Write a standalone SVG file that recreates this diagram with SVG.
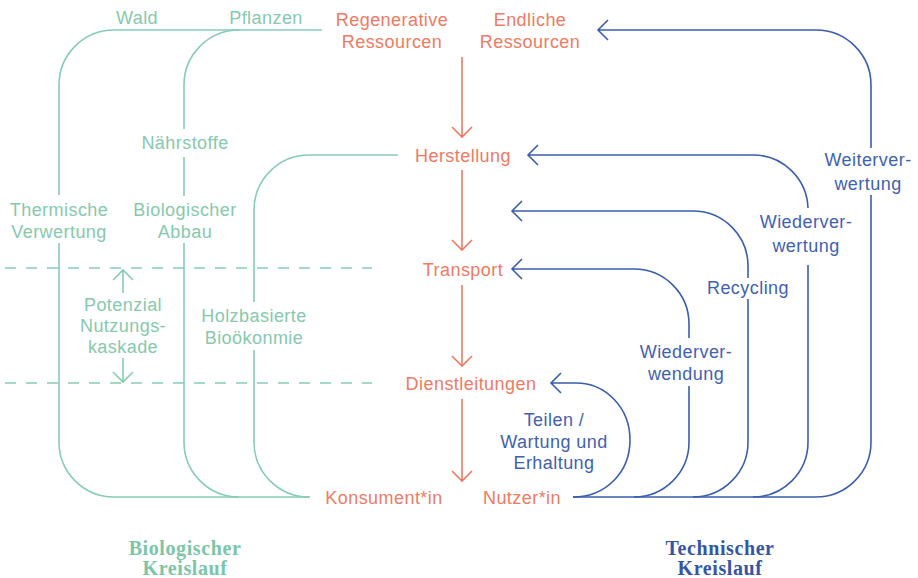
<svg xmlns="http://www.w3.org/2000/svg" width="918" height="578" viewBox="0 0 918 578">
  <defs>
    <style>
      .t { font-family: "Liberation Sans", Arial, sans-serif; font-size: 18px; letter-spacing: 0.45px; text-anchor: middle; }
      .tg { fill: #86c9ad; }
      .to { fill: #ef7a63; }
      .tb { fill: #3f62b0; }
      .title { font-family: "Liberation Serif", "Times New Roman", serif; font-size: 20px; font-weight: bold; letter-spacing: 0.6px; text-anchor: middle; }
      .lg { fill: none; stroke: #86cdb2; stroke-width: 1.6; }
      .lo { fill: none; stroke: #ef7a63; stroke-width: 1.6; }
      .lb { fill: none; stroke: #3a5eae; stroke-width: 1.6; }
      .dash { fill: none; stroke: #86cdb2; stroke-width: 1.6; stroke-dasharray: 11 10; }
    </style>
  </defs>

  <!-- connectors -->
  <g id="connectors">
    <!-- biological loops -->
    <path class="lg" d="M59 195 V85 A55 55 0 0 1 114 30 H322"/>
    <path class="lg" d="M59 243 V442 A55 55 0 0 0 114 497 H310"/>
    <path class="lg" d="M184 129 V85 A55 55 0 0 1 239 30"/>
    <path class="lg" d="M184 196 V157"/>
    <path class="lg" d="M184 243 V442 A55 55 0 0 0 239 497"/>
    <path class="lg" d="M254 302 V210 A55 55 0 0 1 309 155 H398"/>
    <path class="lg" d="M254 350 V442 A55 55 0 0 0 309 497"/>
    <!-- cascade range -->
    <path class="dash" d="M5 268 H372"/>
    <path class="dash" d="M5 383 H372"/>
    <path class="lg" d="M123 293 V270 M113 280 L123 270 L133 280"/>
    <path class="lg" d="M123 358 V382 M113 372 L123 382 L133 372"/>

    <!-- main flow -->
    <path class="lo" d="M462 57 V137 M452 127 L462 137 L472 127"/>
    <path class="lo" d="M462 170 V250 M452 240 L462 250 L472 240"/>
    <path class="lo" d="M462 285 V366 M452 356 L462 366 L472 356"/>
    <path class="lo" d="M462 399 V481 M452 471 L462 481 L472 471"/>

    <!-- technical loops -->
    <path class="lb" d="M871 148 V85 A55 55 0 0 0 816 30 H598 M608 20 L598 30 L608 40"/>
    <path class="lb" d="M871 195 V442 A55 55 0 0 1 816 497 H573"/>
    <path class="lb" d="M808 208 A55 55 0 0 0 753 155 H528 M538 145 L528 155 L538 165"/>
    <path class="lb" d="M808 265 V442 A55 55 0 0 1 753 497"/>
    <path class="lb" d="M748 278 V266 A55 55 0 0 0 693 211 H512 M522 201 L512 211 L522 221"/>
    <path class="lb" d="M748 299 V442 A55 55 0 0 1 693 497"/>
    <path class="lb" d="M689 338 V324 A55 55 0 0 0 634 269 H512 M522 259 L512 269 L522 279"/>
    <path class="lb" d="M689 386 V442 A55 55 0 0 1 634 497"/>
    <path class="lb" d="M573 497 C606 497 630 472 630 440 C630 408 606 383 576 383 H551 M561 373 L551 383 L561 393"/>
  </g>

  <!-- biological labels -->
  <g id="wald"><text class="t tg" x="137" y="24">Wald</text></g>
  <g id="pflanzen"><text class="t tg" x="266" y="24">Pflanzen</text></g>
  <g id="naehrstoffe"><text class="t tg" x="185" y="149">Nährstoffe</text></g>
  <g id="thermische-verwertung"><text class="t tg" x="59" y="216">Thermische</text><text class="t tg" x="59" y="238">Verwertung</text></g>
  <g id="biologischer-abbau"><text class="t tg" x="185" y="216">Biologischer</text><text class="t tg" x="185" y="238">Abbau</text></g>
  <g id="nutzungskaskade"><text class="t tg" x="123" y="311">Potenzial</text><text class="t tg" x="123" y="332">Nutzungs-</text><text class="t tg" x="123" y="353">kaskade</text></g>
  <g id="holzbasierte-biooekonomie"><text class="t tg" x="254" y="322">Holzbasierte</text><text class="t tg" x="254" y="344">Bioökonmie</text></g>

  <!-- main stages -->
  <g id="regenerative-ressourcen"><text class="t to" x="392" y="26">Regenerative</text><text class="t to" x="392" y="48">Ressourcen</text></g>
  <g id="endliche-ressourcen"><text class="t to" x="530" y="26">Endliche</text><text class="t to" x="530" y="48">Ressourcen</text></g>
  <g id="herstellung"><text class="t to" x="463" y="162">Herstellung</text></g>
  <g id="transport"><text class="t to" x="463" y="276">Transport</text></g>
  <g id="dienstleitungen"><text class="t to" x="471" y="390">Dienstleitungen</text></g>
  <g id="konsument"><text class="t to" x="384" y="504">Konsument*in</text></g>
  <g id="nutzer"><text class="t to" x="522" y="504">Nutzer*in</text></g>

  <!-- technical labels -->
  <g id="weiterverwertung"><text class="t tb" x="868" y="166">Weiterver-</text><text class="t tb" x="868" y="190">wertung</text></g>
  <g id="wiederverwertung"><text class="t tb" x="806" y="228">Wiederver-</text><text class="t tb" x="806" y="252">wertung</text></g>
  <g id="recycling"><text class="t tb" x="748" y="294">Recycling</text></g>
  <g id="wiederverwendung"><text class="t tb" x="686" y="358">Wiederver-</text><text class="t tb" x="686" y="380">wendung</text></g>
  <g id="teilen"><text class="t tb" x="554" y="426">Teilen /</text><text class="t tb" x="554" y="448">Wartung und</text><text class="t tb" x="554" y="469">Erhaltung</text></g>

  <!-- cycle titles -->
  <g id="biologischer-kreislauf"><text class="title" x="185" y="555" fill="#7cc5a7">Biologischer</text><text class="title" x="185" y="575" fill="#7cc5a7">Kreislauf</text></g>
  <g id="technischer-kreislauf"><text class="title" x="720" y="555" fill="#3556a5">Technischer</text><text class="title" x="720" y="575" fill="#3556a5">Kreislauf</text></g>
</svg>
